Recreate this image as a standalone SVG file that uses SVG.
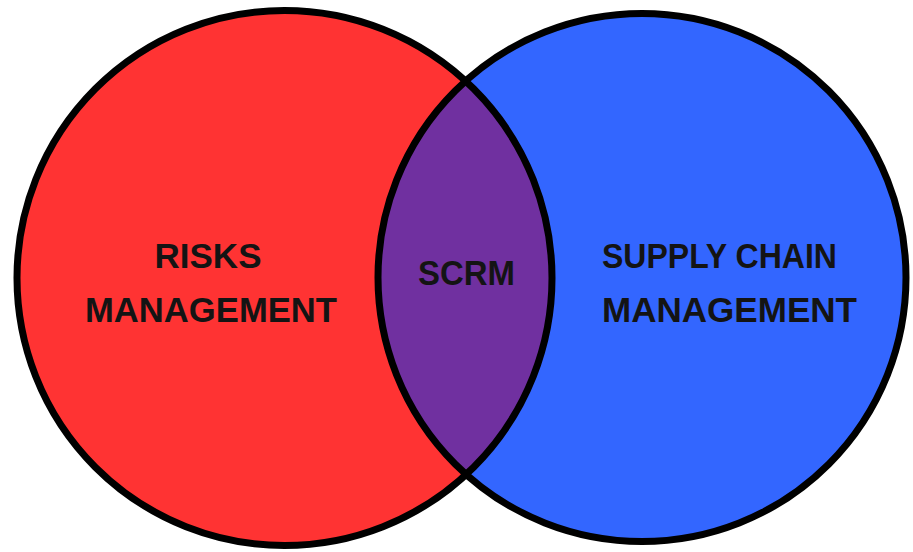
<svg xmlns="http://www.w3.org/2000/svg" width="913" height="552" viewBox="0 0 913 552">
  <style>
    .outline { fill: none; stroke: #000; stroke-width: 7; }
    .lbl { font-family: "Liberation Sans", Arial, sans-serif; font-weight: bold; font-size: 35px; fill: #141414; }
  </style>
  <rect width="913" height="552" fill="#fff"/>
  <g id="risks-management">
    <circle cx="284.5" cy="278" r="267.5" fill="#FF3333"/>
  </g>
  <g id="supply-chain-management">
    <circle cx="642" cy="277.5" r="264" fill="#3366FF"/>
  </g>
  <g id="scrm">
    <path d="M 466 81 A 267.5 267.5 0 0 1 466 475 A 264 264 0 0 1 466 81 Z" fill="#7030A0"/>
  </g>
  <g id="outlines">
    <circle class="outline" cx="284.5" cy="278" r="267.5"/>
    <circle class="outline" cx="642" cy="277.5" r="264"/>
  </g>
  <g id="labels">
    <text class="lbl" x="208" y="268" text-anchor="middle">RISKS</text>
    <text class="lbl" x="211" y="322" text-anchor="middle" textLength="252" lengthAdjust="spacingAndGlyphs">MANAGEMENT</text>
    <text class="lbl" x="466.5" y="285" text-anchor="middle" textLength="97" lengthAdjust="spacingAndGlyphs">SCRM</text>
    <text class="lbl" x="602" y="268" textLength="235" lengthAdjust="spacingAndGlyphs">SUPPLY CHAIN</text>
    <text class="lbl" x="602" y="322" textLength="255" lengthAdjust="spacingAndGlyphs">MANAGEMENT</text>
  </g>
</svg>
